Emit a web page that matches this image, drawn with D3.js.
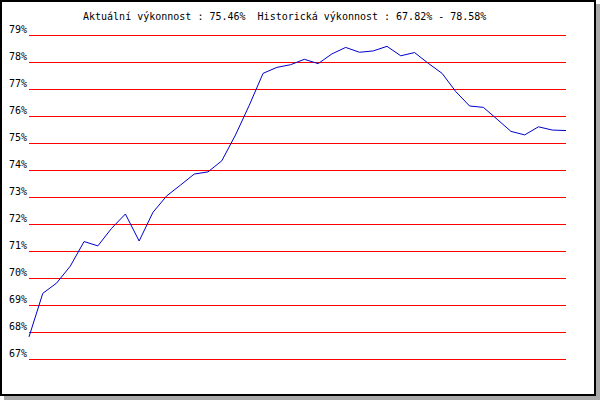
<!DOCTYPE html>
<html>
<head>
<meta charset="utf-8">
<script src="https://cdn.jsdelivr.net/npm/d3@7"></script>
<style>
  html, body { margin: 0; padding: 0; background: #ffffff; }
  svg { display: block; }
  text { font-family: "DejaVu Sans Mono", monospace; font-size: 10px; fill: #000; white-space: pre; }
</style>
</head>
<body>
<svg id="chart" width="600" height="400"></svg>
<script>
const titleText = "Aktuální výkonnost : 75.46%  Historická výkonnost : 67.82% - 78.58%";
const yTicks = [67, 68, 69, 70, 71, 72, 73, 74, 75, 76, 77, 78, 79];
const yTickLabels = ["67%", "68%", "69%", "70%", "71%", "72%", "73%", "74%", "75%", "76%", "77%", "78%", "79%"];
const performance = [
  67.82, 69.43, 69.81, 70.44, 71.35, 71.19, 71.84, 72.37, 71.37, 72.43,
  73.04, 73.44, 73.85, 73.93, 74.34, 75.30, 76.40, 77.58, 77.80, 77.90,
  78.10, 77.94, 78.30, 78.54, 78.36, 78.41, 78.58, 78.23, 78.35, 77.95,
  77.58, 76.90, 76.37, 76.32, 75.88, 75.43, 75.30, 75.60, 75.48, 75.46
];

const svg = d3.select("#chart");

// shadow + frame
svg.append("rect").attr("x", 4).attr("y", 4).attr("width", 596).attr("height", 396).attr("fill", "#a9a9a9");
svg.append("rect").attr("x", 1).attr("y", 1).attr("width", 594).attr("height", 394)
  .attr("fill", "#ffffff").attr("stroke", "#000").attr("stroke-width", 2);

const x = d3.scaleLinear().domain([0, performance.length - 1]).range([29, 566]);
const y = d3.scaleLinear().domain([67, 79]).range([359, 35]);

// grid lines
svg.append("g").selectAll("line").data(yTicks).join("line")
  .attr("x1", 29).attr("x2", 566)
  .attr("y1", d => Math.round(y(d)) + 0.5).attr("y2", d => Math.round(y(d)) + 0.5)
  .attr("stroke", "#ff0000").attr("stroke-width", 1)
  .attr("shape-rendering", "crispEdges");

// labels
svg.append("g").selectAll("text").data(yTicks).join("text")
  .attr("x", 27).attr("y", d => Math.round(y(d)) - 2)
  .attr("text-anchor", "end")
  .text((d, i) => yTickLabels[i]);

// title
svg.append("text").attr("x", 83).attr("y", 20).attr("xml:space", "preserve").text(titleText);

// line
const line = d3.line().x((d, i) => x(i)).y(d => y(d));
svg.append("path").datum(performance)
  .attr("d", line)
  .attr("fill", "none")
  .attr("stroke", "#0000cc")
  .attr("stroke-width", 1);
</script>
</body>
</html>
